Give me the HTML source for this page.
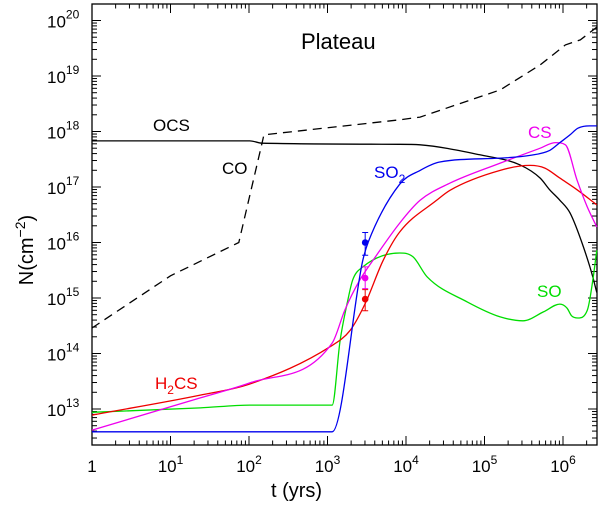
<!DOCTYPE html>
<html><head><meta charset="utf-8"><style>
body{margin:0;background:#fff;}
svg{display:block;font-family:"Liberation Sans",sans-serif;}
</style></head><body>
<svg id="chart" width="600" height="506" viewBox="0 0 600 506" xmlns="http://www.w3.org/2000/svg">
<g id="grid"></g>
<g id="series"></g>
<g id="labels"></g>
</svg>
<script>
// data in log10 units: xs = log10(t / yrs), ys = log10(N / cm^-2)
const xTickLabels = ["1","10","10","10","10","10","10"];
const xTickExp = ["","1","2","3","4","5","6"];
const yTickExp = ["13","14","15","16","17","18","19","20"];
const coX = [0,1.0,1.87,2.17,2.19,3.92,4.18,5.2,5.71,6.03,6.22,6.43];
const coY = [14.46,15.4,16.0,17.81,17.94,18.21,18.26,18.75,19.2,19.56,19.65,19.88];
const ocsX = [0,2.01,2.17,3.92,4.18,4.94,5.45,5.71,5.83,5.96,6.09,6.26,6.38,6.43];
const ocsY = [17.83,17.83,17.79,17.77,17.76,17.58,17.4,17.16,16.95,16.76,16.53,15.92,15.38,15.1];
const so2X = [0,3.06,3.45,3.52,3.92,4.18,4.43,5.2,5.58,5.83,5.96,6.09,6.19,6.34,6.43];
const so2Y = [12.59,12.59,15.68,16.01,17.05,17.3,17.45,17.52,17.57,17.66,17.8,17.94,18.06,18.1,18.1];
const csX = [0,1.38,2.01,3.06,3.22,3.41,3.6,3.92,4.18,4.56,5.2,5.71,5.9,6.03,6.18,6.31,6.43];
const csY = [12.62,13.2,13.47,14.19,14.78,15.32,15.72,16.35,16.76,17.07,17.43,17.7,17.8,17.76,17.12,16.64,16.28];
const h2csX = [0,1.38,2.01,3.03,3.29,3.48,3.71,3.92,4.39,4.56,5.2,5.58,5.77,5.96,6.18,6.43];
const h2csY = [12.89,13.25,13.45,14.12,14.42,14.9,15.68,16.19,16.76,16.94,17.3,17.39,17.34,17.16,16.95,16.68];
const soX = [0,1.38,2.01,3.06,3.16,3.25,3.32,3.45,3.92,4.09,4.27,4.78,5.2,5.49,5.75,5.96,6.05,6.11,6.19,6.31,6.38,6.43];
const soY = [12.94,13.02,13.07,13.07,14.23,14.9,15.32,15.56,15.81,15.74,15.38,14.93,14.66,14.59,14.75,14.89,14.82,14.68,14.64,14.78,15.32,15.86];
const obsX = [3.48,3.48,3.48];
const obsY = [16.0,15.36,14.98];
const obsLo = [15.77,15.17,14.77];
const obsHi = [16.18,15.56,15.15];
const obsColors = ["#0000ee","#ee00ee","#ee0000"];

const L=92,R=597,T=4,B=445;
const X0=0,X1=(R-L)/78.5, Y0=20-(B-20.5)/55.5, Y1=20+(20.5-T)/55.5;
function sx(v){return L+(v-X0)/(X1-X0)*(R-L);}
function sy(v){return B-(v-Y0)/(Y1-Y0)*(B-T);}
const NS="http://www.w3.org/2000/svg";
function mk(tag,attrs,parent){const e=document.createElementNS(NS,tag);for(const k in attrs)e.setAttribute(k,attrs[k]);parent.appendChild(e);return e;}
const grid=document.getElementById('grid'),ser=document.getElementById('series'),lab=document.getElementById('labels');

const frame=mk('rect',{x:L,y:T,width:R-L,height:B-T,fill:'none',stroke:'#000','stroke-width':1.3},grid);



for(let d=0;d<=6;d++){
  for(let m=1;m<10;m++){
    const v=d+Math.log10(m); if(v>X1) break;
    const len=m===1?9:4.5, x=sx(v);
    const t1=mk('line',{x1:x,y1:B,x2:x,y2:B-len,stroke:'#000','stroke-width':1},grid);
    
    
    const t2=mk('line',{x1:x,y1:T,x2:x,y2:T+len,stroke:'#000','stroke-width':1},grid);
    
    
  }
}
for(let i=0;i<xTickLabels.length;i++){
  const tx=mk('text',{x:sx(i),y:472,'font-size':17,'text-anchor':'middle'},lab);
  
  
  tx.textContent=xTickLabels[i];
  if(xTickExp[i]){const s=mk('tspan',{dy:-8,'font-size':12},tx);s.textContent=xTickExp[i];}
}
for(let d=12;d<=20;d++){
  for(let m=1;m<10;m++){
    const v=d+Math.log10(m); if(v<Y0||v>Y1) continue;
    const len=m===1?9:5, y=sy(v);
    const t1=mk('line',{x1:L,y1:y,x2:L+len,y2:y,stroke:'#000','stroke-width':1},grid);
    
    
    const t2=mk('line',{x1:R,y1:y,x2:R-len,y2:y,stroke:'#000','stroke-width':1},grid);
    
    
  }
}
for(let i=0;i<yTickExp.length;i++){
  const v=+yTickExp[i];
  const ty=mk('text',{x:47,y:sy(v)+7,'font-size':17},lab);
  
  
  ty.textContent='10';
  const s=mk('tspan',{dy:-9,'font-size':12},ty);s.textContent=yTickExp[i];
}
// monotone cubic (Fritsch-Carlson) interpolation in data space -> no overshoot
function monoPath(xs,ys){
  const n=xs.length,dl=[],m=new Array(n);
  for(let i=0;i<n-1;i++)dl.push((ys[i+1]-ys[i])/(xs[i+1]-xs[i]));
  m[0]=dl[0];m[n-1]=dl[n-2];
  for(let i=1;i<n-1;i++){m[i]=(dl[i-1]*dl[i]<=0)?0:(dl[i-1]+dl[i])/2;}
  for(let i=0;i<n-1;i++){
    if(dl[i]===0){m[i]=0;m[i+1]=0;continue;}
    const a=m[i]/dl[i],b=m[i+1]/dl[i],s=a*a+b*b;
    if(s>9){const t=3/Math.sqrt(s);m[i]=t*a*dl[i];m[i+1]=t*b*dl[i];}
  }
  let d='M'+sx(xs[0]).toFixed(1)+','+sy(ys[0]).toFixed(1);
  for(let i=0;i<n-1;i++){
    const h=(xs[i+1]-xs[i])/3;
    d+='C'+sx(xs[i]+h).toFixed(1)+','+sy(ys[i]+m[i]*h).toFixed(1)+' '+sx(xs[i+1]-h).toFixed(1)+','+sy(ys[i+1]-m[i+1]*h).toFixed(1)+' '+sx(xs[i+1]).toFixed(1)+','+sy(ys[i+1]).toFixed(1);
  }
  return d;
}
function line(xs,ys,color,name,dash,smooth){
  let d;
  if(smooth)d=monoPath(xs,ys);
  else d=xs.map((v,i)=>(i?'L':'M')+sx(v).toFixed(1)+','+sy(ys[i]).toFixed(1)).join('');
  const p=mk('path',{d:d,fill:'none',stroke:color,'stroke-width':1.3},ser);
  if(dash)p.setAttribute('stroke-dasharray',dash);
  
  
}
line(coX,coY,'#000','co-line','9,6',false);
line(ocsX,ocsY,'#000','ocs-line',null,true);
line(soX,soY,'#00dd00','so-line',null,true);
line(h2csX,h2csY,'#ee0000','h2cs-line',null,true);
line(csX,csY,'#ee00ee','cs-line',null,true);
line(so2X,so2Y,'#0000ee','so2-line',null,true);
for(let i=0;i<obsX.length;i++){
  const x=sx(obsX[i]);
  const eb=mk('path',{d:`M${x},${sy(obsLo[i])}V${sy(obsHi[i])}M${x-3},${sy(obsLo[i])}h6M${x-3},${sy(obsHi[i])}h6`,stroke:obsColors[i],'stroke-width':1,fill:'none'},ser);
  
  
  const c=mk('circle',{cx:x,cy:sy(obsY[i]),r:3.3,fill:obsColors[i]},ser);
  
  
}
</script>
<script>
(function(){
const lab=document.getElementById('labels');const NS="http://www.w3.org/2000/svg";
function t(x,y,txt,color,size,name){const e=document.createElementNS(NS,'text');e.setAttribute('x',x);e.setAttribute('y',y);e.setAttribute('fill',color);e.setAttribute('font-size',size);


e.innerHTML=txt;lab.appendChild(e);}
t(301,49,'Plateau','#000',22,'plot-title');
t(153,131,'OCS','#000',17,'ocs-label');
t(222,174,'CO','#000',17,'co-label');
t(374,178,'SO<tspan dy="5" font-size="12">2</tspan>','#0000ee',17,'so2-label');
t(528,138,'CS','#ee00ee',17,'cs-label');
t(155,389,'H<tspan dy="5" font-size="12">2</tspan><tspan dy="-5">CS</tspan>','#ee0000',17,'h2cs-label');
t(537,297,'SO','#00dd00',17,'so-label');
t(271,497,'t  (yrs)','#000',20,'x-axis-title');
const y=document.createElementNS(NS,'text');y.setAttribute('transform','translate(33,250) rotate(-90)');y.setAttribute('text-anchor','middle');y.setAttribute('font-size',20);


y.innerHTML='N(cm<tspan dy="-8" font-size="14">−2</tspan><tspan dy="8">)</tspan>';lab.appendChild(y);
})();
</script>
</body></html>
